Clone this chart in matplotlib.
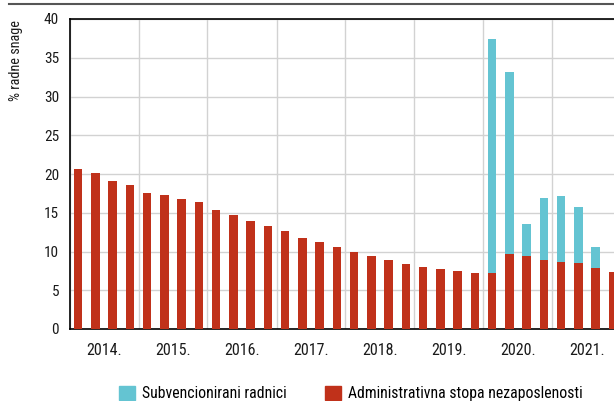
import numpy as np
import matplotlib.pyplot as plt
from matplotlib.patches import Patch
from matplotlib.lines import Line2D

plt.rcParams['font.family'] = ['Roboto Condensed', 'Liberation Sans Narrow', 'Liberation Sans']

# quarterly data, 2014Q1 - 2021Q4
years = ['2014.', '2015.', '2016.', '2017.', '2018.', '2019.', '2020.', '2021.']
stopa = [20.6, 20.1, 19.1, 18.6, 17.6, 17.25, 16.8, 16.4,
         15.35, 14.7, 13.9, 13.3, 12.7, 11.8, 11.2, 10.6,
         10.0, 9.4, 8.9, 8.35, 8.05, 7.75, 7.45, 7.2,
         7.2, 9.7, 9.45, 8.9, 8.6, 8.55, 7.85, 7.3]
subvencije = [0] * 24 + [30.2, 23.5, 4.1, 8.0, 8.6, 7.15, 2.75, 0]

red = '#c0311a'
cyan = '#64c4d2'

x = np.arange(len(stopa))

fig = plt.figure(figsize=(6.14, 4.01), dpi=100)
ax = fig.add_axes([69.5 / 614, 72 / 401, 552 / 614, 310 / 401])

ax.bar(x, stopa, width=0.5, color=red, zorder=3)
ax.bar(x, subvencije, width=0.5, bottom=stopa, color=cyan, zorder=3)

ax.set_xlim(-0.5, len(x) - 0.5)
ax.set_ylim(0, 40)
ax.set_yticks(range(0, 41, 5))

# gridlines between years, labels in the middle of each year
ax.set_xticks(np.arange(-0.5, len(x), 4))
ax.set_xticklabels([])
ax.set_xticks(np.arange(1.5, len(x), 4), minor=True)
ax.set_xticklabels(years, minor=True)
ax.tick_params(axis='x', which='both', length=0, pad=10, labelsize=11.5, colors='#1a1a1a')
ax.tick_params(axis='y', length=0, pad=7.5, labelsize=11, colors='#1a1a1a')

ax.grid(True, which='major', color='#d2d2d2', linewidth=1, zorder=0)
for s in ax.spines.values():
    s.set_color('black')
    s.set_linewidth(1.2)

ax.set_ylabel('% radne snage', fontsize=10.3, color='#1a1a1a')
ax.yaxis.set_label_coords(-0.084, 0.865)

# rule across the top of the figure
fig.add_artist(Line2D([9 / 614, 1], [397 / 401, 397 / 401], color='#555555', linewidth=1.5))

handles = [Patch(color=cyan), Patch(color=red)]
fig.legend(handles, ['Subvencionirani radnici', 'Administrativna stopa nezaposlenosti'],
           loc='lower left', bbox_to_anchor=(105 / 614, -0.035), ncol=2, frameon=False,
           handlelength=1.0, handleheight=1.0, handletextpad=0.45, columnspacing=2.45,
           fontsize=11.3)

fig.savefig('out.png', dpi=100)
